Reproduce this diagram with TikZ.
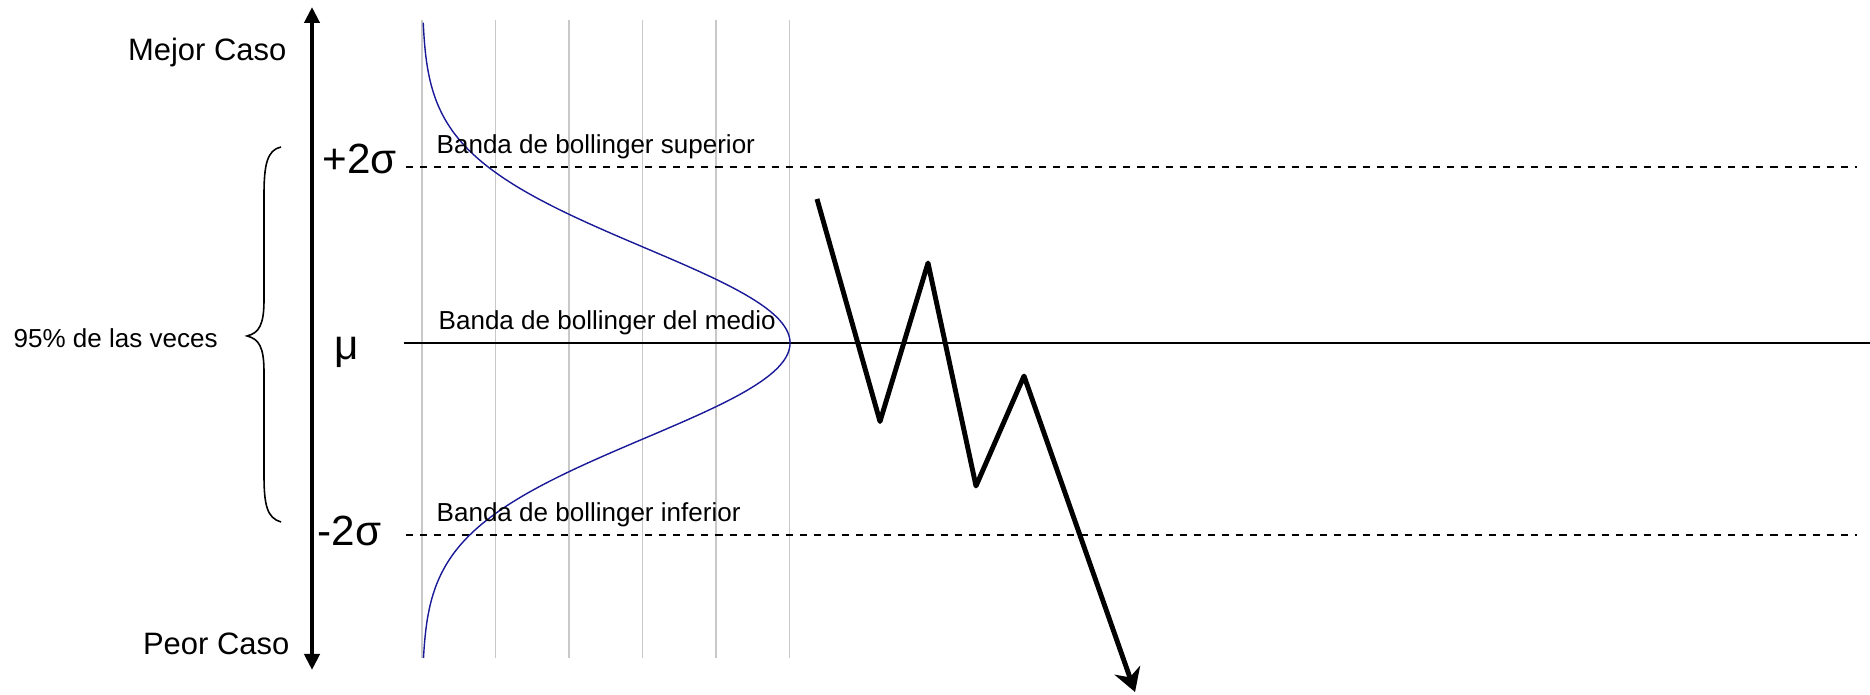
\documentclass[tikz,border=0pt]{standalone}
\usepackage{fontspec}
\setmainfont{Liberation Sans}
\usetikzlibrary{arrows.meta, positioning, calc}
\definecolor{curveblue}{HTML}{1a1a99}
\definecolor{gridgrey}{HTML}{c8c8c8}
\tikzset{
  caselabel/.style={font=\fontsize{8.8}{10}\selectfont, inner sep=0pt, anchor=base east},
  sigmalabel/.style={font=\fontsize{12}{14}\selectfont, inner sep=0pt, anchor=base west},
  bandlabel/.style={font=\fontsize{7.4}{9}\selectfont, inner sep=0pt, anchor=base west},
  axisline/.style={{Triangle[length=1.6mm,width=1.5mm]}-{Triangle[length=1.6mm,width=1.5mm]},
                   line width=1.15pt},
  bandline/.style={line width=0.55pt, dash pattern=on 2pt off 2pt},
  midline/.style={line width=0.5pt},
  gridline/.style={draw=gridgrey, line width=0.3pt},
  bellcurve/.style={draw=curveblue, line width=0.4pt},
  pricepath/.style={-{Stealth[length=2.3mm,width=2.7mm]}, line width=1.4pt, line join=round},
  bracket/.style={line width=0.45pt},
}

\begin{document}
\begin{tikzpicture}[x=0.01cm, y=-0.01cm]
  \useasboundingbox (0,0) rectangle (1870,695);

  % grid
  \foreach \i in {0,...,5}
    \draw[gridline] ({422+73.5*\i},20) -- ({422+73.5*\i},658);

  % bands
  \coordinate (upL)  at (406,166.7);  \coordinate (upR)  at (1857,166.7);
  \coordinate (midL) at (404,343);    \coordinate (midR) at (1870,343);
  \coordinate (lowL) at (406,535);    \coordinate (lowR) at (1857,535);
  \draw[bandline] (upL) -- (upR);
  \draw[midline] (midL) -- (midR);
  \draw[bandline] (lowL) -- (lowR);

  % normal curve
  \draw[bellcurve] plot[domain=22.7:658, samples=200, smooth]
    ({422+368*exp(-0.5*((\x-343)/95)^2)}, \x);

  % axis
  \coordinate (axtop) at (312,7);
  \coordinate (axbot) at (312,670);
  \draw[axisline] (axbot) -- (axtop);

  \node[caselabel] (best)  at (287,60.7) {Mejor Caso};
  \node[caselabel] (worst) at (290,655)  {Peor Caso};
  \node[sigmalabel] (plus)  at (322,174) {+2σ};
  \node[sigmalabel] (mu)    at (334,360) {μ};
  \node[sigmalabel] (minus) at (317,546) {-2σ};
  \node[bandlabel] (bsup) at (436,154) {Banda de bollinger superior};
  \node[bandlabel] (bmid) at (438,330) {Banda de bollinger del medio};
  \node[bandlabel] (binf) at (436,522) {Banda de bollinger inferior};
  \node[bandlabel] (pct)  at (13,348)  {95\% de las veces};

  % brace
  \draw[bracket] (281,147) .. controls (267,150) and (264,165) .. (264,195)
    -- (264,300) .. controls (264,325) and (259,333) .. (247,336)
    .. controls (259,339) and (264,347) .. (264,372)
    -- (264,475) .. controls (264,505) and (267,518) .. (281,522);

  % price path
  \coordinate (p0) at (817,199);
  \coordinate (p1) at (880,421.5);
  \coordinate (p2) at (928,263);
  \coordinate (p3) at (976,486);
  \coordinate (p4) at (1024,376);
  \coordinate (p5) at (1135,692);
  \draw[pricepath] (p0) -- (p1) -- (p2) -- (p3) -- (p4) -- (p5);
\end{tikzpicture}
\end{document}
